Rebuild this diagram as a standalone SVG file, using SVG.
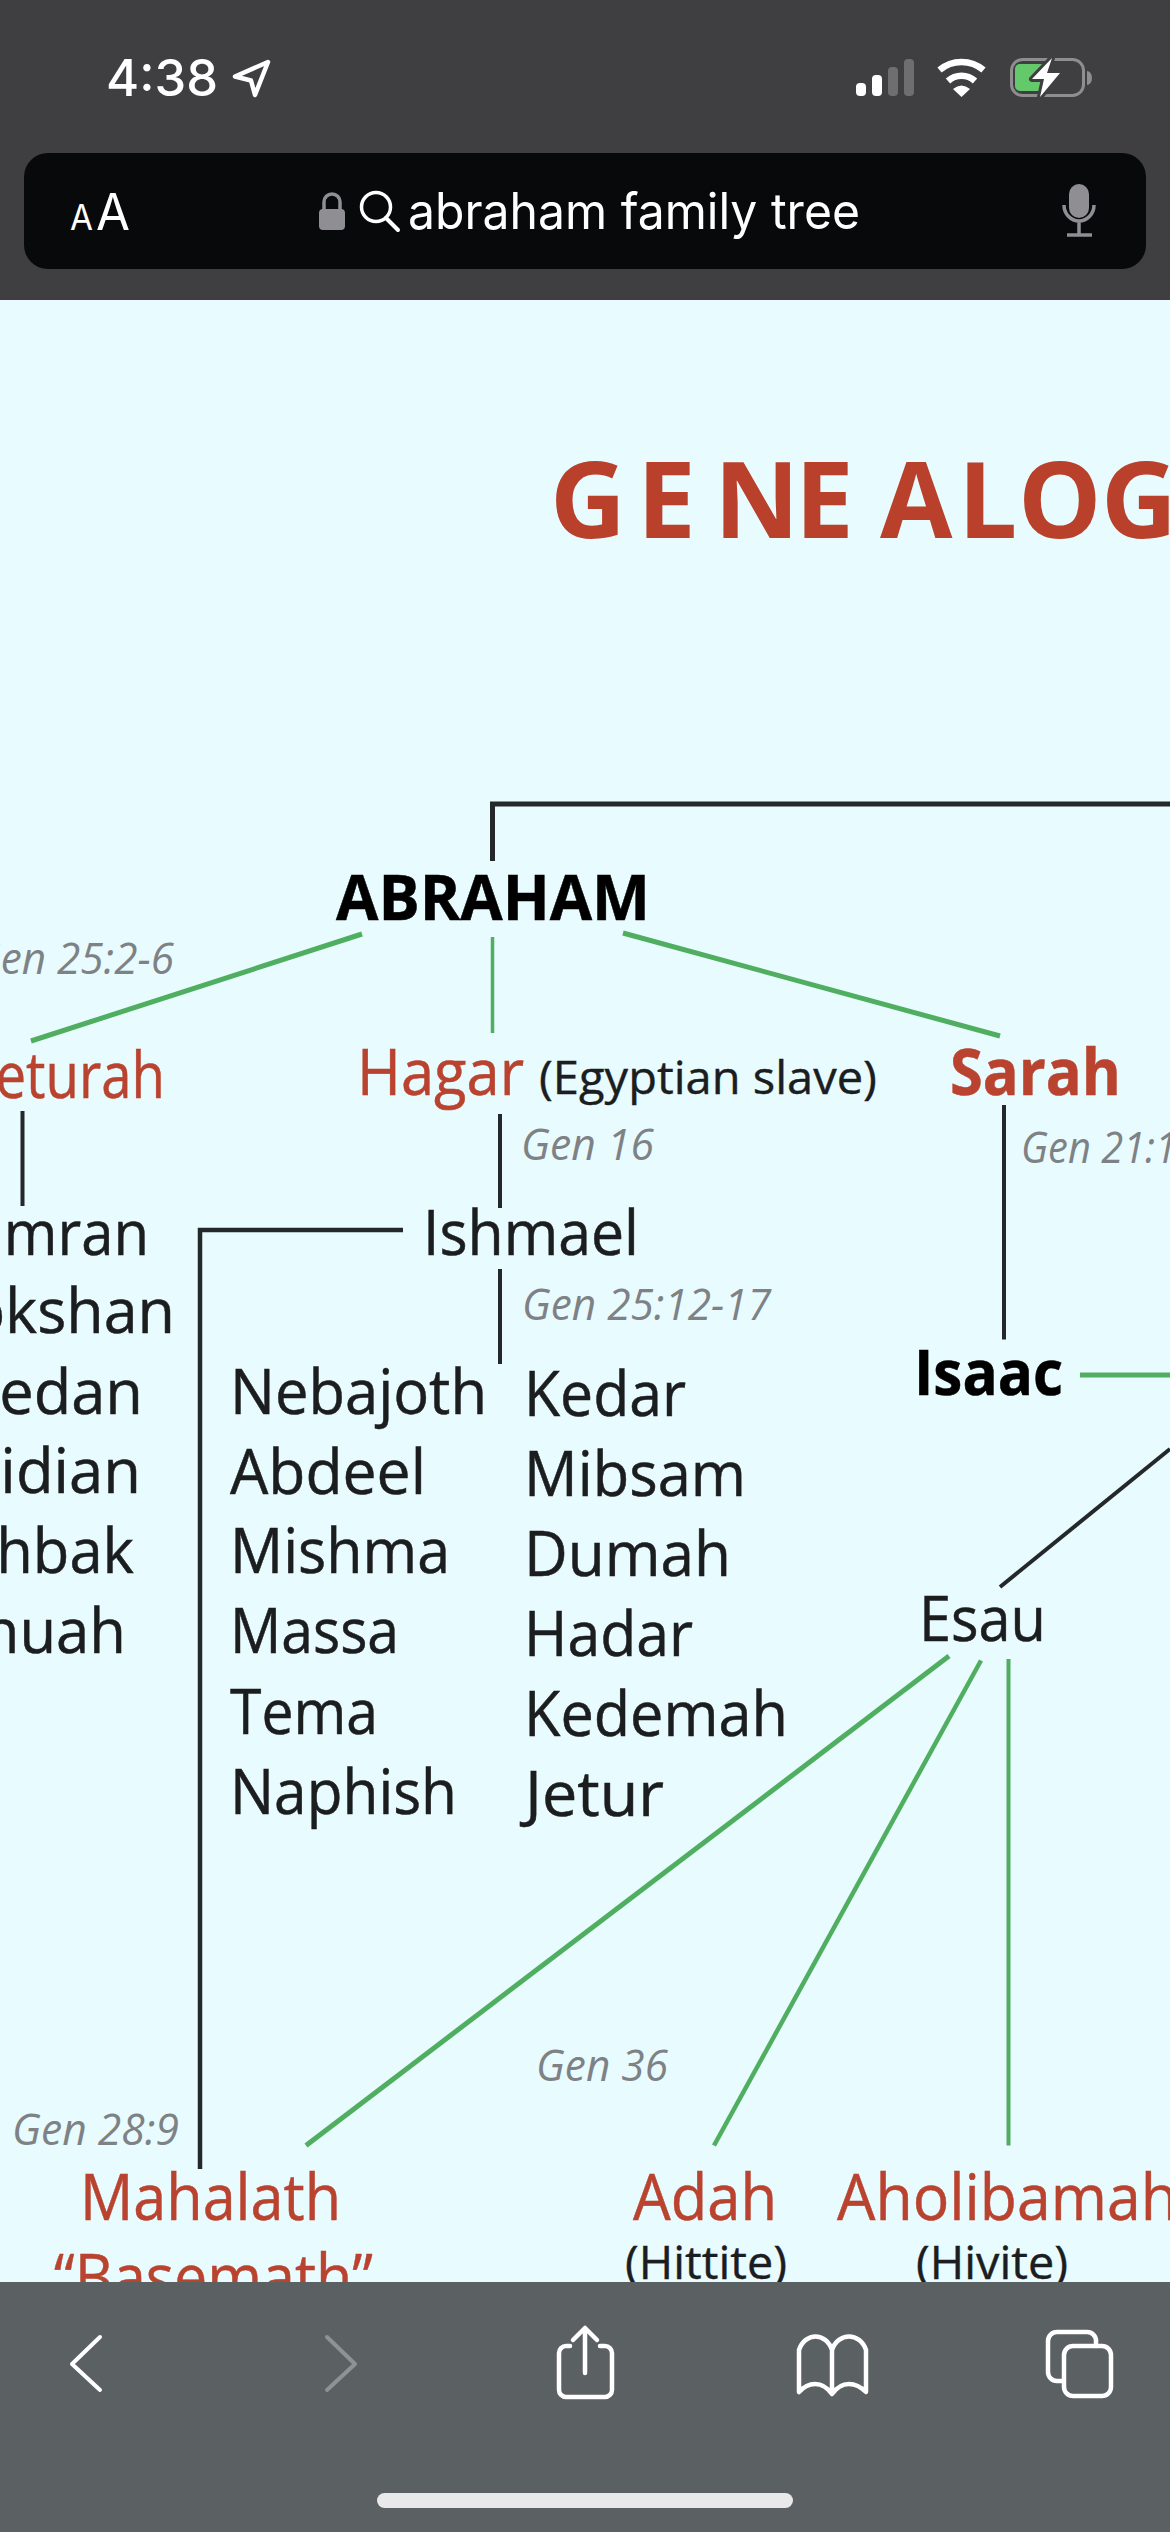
<svg xmlns="http://www.w3.org/2000/svg" width="1170" height="2532" viewBox="0 0 1170 2532">
<style>
text{font-family:"Open Sans","Noto Sans","Liberation Sans",sans-serif}
.n{font-size:62px;fill:#1b1d1f;stroke:#1b1d1f;stroke-width:.5}
.w{font-size:64px;fill:#b9432f;stroke:#b9432f;stroke-width:.5}
.b{font-weight:700}
.g{font-size:44px;fill:#7e8285;font-style:italic}
.s{font-size:46px;fill:#1b1d1f;stroke:#1b1d1f;stroke-width:.4}
.ui{font-family:Inter,"Noto Sans",sans-serif;fill:#fff}
.bk{fill:none;stroke:#25282a;stroke-width:4}
.gr{fill:none;stroke:#4fae5f;stroke-width:5}
.ic{fill:none;stroke:#fff;stroke-width:4.5;stroke-linecap:round;stroke-linejoin:round}
</style>
<rect width="1170" height="2532" fill="#e8fbff"/>
<g id="title"><text x="550 637 714 795 880 958 1018 1101 1190" y="538" font-size="105" font-weight="700" fill="#b9402b">GENEALOGY</text></g>
<g id="connectors">
<path class="bk" style="stroke-width:5" d="M492.5 861V804H1170"/>
<path class="gr" d="M362 934L31 1041M623 933L1000 1036"/>
<path class="gr" style="stroke-width:3.5" d="M492.5 937V1033"/>
<path class="bk" d="M22.5 1111V1206M500 1114V1208M500 1269V1364M1004 1105V1339.5"/>
<path class="bk" style="stroke-width:4.5" d="M403 1230H200V2169"/>
<path class="gr" d="M1080 1375H1170"/>
<path class="bk" d="M1170 1449L1000 1587"/>
<path class="gr" d="M949 1656L306 2145.5"/>
<path class="gr" style="stroke-width:4.5" d="M981 1660.5L714 2145.5"/>
<path class="gr" style="stroke-width:4" d="M1008.5 1659V2145.5"/>
</g>
<g id="abraham"><text class="n b" x="336" y="920" textLength="314" lengthAdjust="spacingAndGlyphs" style="fill:#000;stroke:#000;font-size:63px">ABRAHAM</text></g>
<g id="gen-25-2-6"><text class="g" x="-28" y="974" textLength="202" lengthAdjust="spacingAndGlyphs">Gen 25:2-6</text></g>
<g id="keturah"><text class="w" x="-38" y="1098" textLength="203" lengthAdjust="spacingAndGlyphs">Keturah</text></g>
<g id="hagar"><text class="w" x="357" y="1095" textLength="167" lengthAdjust="spacingAndGlyphs">Hagar</text><text class="s" x="539" y="1094" textLength="338" lengthAdjust="spacingAndGlyphs">(Egyptian slave)</text></g>
<g id="sarah"><text class="w b" x="950" y="1095" textLength="171" lengthAdjust="spacingAndGlyphs">Sarah</text></g>
<g id="gen-16"><text class="g" x="521" y="1160" textLength="133" lengthAdjust="spacingAndGlyphs">Gen 16</text></g>
<g id="gen-21"><text class="g" x="1021" y="1163" textLength="156" lengthAdjust="spacingAndGlyphs">Gen 21:1</text></g>
<g id="ishmael"><text class="n" x="423" y="1254.5" textLength="216" lengthAdjust="spacingAndGlyphs">Ishmael</text></g>
<g id="gen-25-12-17"><text class="g" x="522" y="1320" textLength="249" lengthAdjust="spacingAndGlyphs">Gen 25:12-17</text></g>
<g id="isaac"><text class="n b" x="914" y="1394.5" textLength="149" lengthAdjust="spacingAndGlyphs" style="fill:#000;stroke:#000">Isaac</text></g>
<g id="esau"><text class="n" x="919" y="1641" textLength="127" lengthAdjust="spacingAndGlyphs">Esau</text></g>
<g id="keturah-sons">
<text class="n" x="-44" y="1254.5" textLength="193" lengthAdjust="spacingAndGlyphs">Zimran</text>
<text class="n" x="-48" y="1333" textLength="223" lengthAdjust="spacingAndGlyphs">Jokshan</text>
<text class="n" x="-56" y="1414" textLength="199" lengthAdjust="spacingAndGlyphs">Medan</text>
<text class="n" x="-55" y="1493" textLength="196" lengthAdjust="spacingAndGlyphs">Midian</text>
<text class="n" x="-49" y="1573" textLength="183" lengthAdjust="spacingAndGlyphs">Ishbak</text>
<text class="n" x="-50" y="1653" textLength="176" lengthAdjust="spacingAndGlyphs">Shuah</text>
</g>
<g id="ishmael-sons-1">
<text class="n" x="230" y="1414" textLength="257" lengthAdjust="spacingAndGlyphs">Nebajoth</text>
<text class="n" x="230" y="1494" textLength="196" lengthAdjust="spacingAndGlyphs">Abdeel</text>
<text class="n" x="230" y="1573" textLength="220" lengthAdjust="spacingAndGlyphs">Mishma</text>
<text class="n" x="230" y="1653" textLength="169" lengthAdjust="spacingAndGlyphs">Massa</text>
<text class="n" x="230" y="1734" textLength="148" lengthAdjust="spacingAndGlyphs">Tema</text>
<text class="n" x="230" y="1813.5" textLength="227" lengthAdjust="spacingAndGlyphs">Naphish</text>
</g>
<g id="ishmael-sons-2">
<text class="n" x="524" y="1416" textLength="162" lengthAdjust="spacingAndGlyphs">Kedar</text>
<text class="n" x="524" y="1496" textLength="222" lengthAdjust="spacingAndGlyphs">Mibsam</text>
<text class="n" x="524" y="1576" textLength="207" lengthAdjust="spacingAndGlyphs">Dumah</text>
<text class="n" x="524" y="1655.5" textLength="169" lengthAdjust="spacingAndGlyphs">Hadar</text>
<text class="n" x="524" y="1736" textLength="264" lengthAdjust="spacingAndGlyphs">Kedemah</text>
<text class="n" x="525" y="1816" textLength="139" lengthAdjust="spacingAndGlyphs">Jetur</text>
</g>
<g id="gen-36"><text class="g" x="536" y="2081" textLength="132" lengthAdjust="spacingAndGlyphs">Gen 36</text></g>
<g id="gen-28-9"><text class="g" x="12" y="2145" textLength="167" lengthAdjust="spacingAndGlyphs">Gen 28:9</text></g>
<g id="mahalath"><text class="w" x="80" y="2220" textLength="261" lengthAdjust="spacingAndGlyphs">Mahalath</text><text class="w" x="54" y="2300" textLength="319" lengthAdjust="spacingAndGlyphs">“Basemath”</text></g>
<g id="adah"><text class="w" x="633" y="2220" textLength="144" lengthAdjust="spacingAndGlyphs">Adah</text><text class="s" x="625" y="2279" textLength="162" lengthAdjust="spacingAndGlyphs">(Hittite)</text></g>
<g id="aholibamah"><text class="w" x="837" y="2220" textLength="341" lengthAdjust="spacingAndGlyphs">Aholibamah</text><text class="s" x="916" y="2279" textLength="152" lengthAdjust="spacingAndGlyphs">(Hivite)</text></g>

<g id="top-bar">
<rect width="1170" height="300" fill="#3f3f41"/>
<text class="ui" x="106" y="96" font-size="51" font-weight="500" textLength="112" lengthAdjust="spacingAndGlyphs">4:38</text>
<path d="M268 62L235 76.5L251 80.5L255 95Z" fill="none" stroke="#fff" stroke-width="4.5" stroke-linejoin="round"/>
<rect x="856" y="83" width="10" height="13" rx="4" fill="#fff"/><rect x="872" y="75" width="10" height="21" rx="4" fill="#fff"/>
<rect x="888" y="67" width="10" height="29" rx="4" fill="#6e6e70"/><rect x="904" y="59" width="10" height="37" rx="4" fill="#6e6e70"/>
<path d="M939.5 70A34 34 0 0 1 983.5 70M948 81A20 20 0 0 1 975 81" fill="none" stroke="#fff" stroke-width="6.5"/><path d="M953 89Q961.5 82 970 89L961.5 97Z" fill="#fff"/>
<rect x="1011.5" y="59.5" width="72" height="36" rx="11" fill="none" stroke="#8e8e90" stroke-width="3"/>
<path d="M1087 71a5 7 0 0 1 0 14Z" fill="#8e8e90"/>
<rect x="1015" y="64" width="30" height="27" rx="5" fill="#63c96a"/>
<path d="M1052 58L1032 79H1044L1040 97L1060 73H1047Z" fill="#fff" stroke="#3f3f41" stroke-width="6" paint-order="stroke" stroke-linejoin="round"/>
<rect x="24" y="153" width="1122" height="116" rx="24" fill="#08090b"/>
<text class="ui" x="70" y="230" font-size="35" textLength="23" lengthAdjust="spacingAndGlyphs">A</text>
<text class="ui" x="96" y="230" font-size="51" textLength="34" lengthAdjust="spacingAndGlyphs">A</text>
<rect x="319" y="209" width="26" height="21" rx="4" fill="#8e8e93"/><path d="M324 210V202a8 8 0 0 1 16 0V210" fill="none" stroke="#8e8e93" stroke-width="3.5"/>
<circle cx="376" cy="207" r="14.5" fill="none" stroke="#fff" stroke-width="3.5"/><path d="M386 218L398 230" stroke="#fff" stroke-width="4" stroke-linecap="round"/>
<text class="ui" x="408" y="229" font-size="50" textLength="452" lengthAdjust="spacingAndGlyphs">abraham family tree</text>
<rect x="1069" y="184" width="20" height="34" rx="10" fill="#8e8e93"/><path d="M1064 205a15 16 0 0 0 30 0M1079 221V234M1067 235H1092" fill="none" stroke="#8e8e93" stroke-width="3.5"/>
</g>
<g id="bottom-bar">
<rect y="2282" width="1170" height="250" fill="#5b6063"/>
<path class="ic" d="M100 2337L72 2364L100 2390" style="stroke-width:4"/>
<path class="ic" d="M327 2337L355 2364L327 2390" style="stroke:#8e9295;stroke-width:4"/>
<path class="ic" d="M570 2346H566a7 7 0 0 0 -7 7V2390a7 7 0 0 0 7 7H605a7 7 0 0 0 7 -7V2353a7 7 0 0 0 -7 -7H600M585 2373V2329M573 2340L585 2328L597 2340"/>
<path class="ic" d="M832 2394C822 2380 808 2382 799 2392V2350C805 2332 826 2332 832 2350V2394C842 2380 856 2382 866 2392V2350C860 2332 838 2332 832 2350"/>
<path class="ic" d="M1063 2381H1057a9 9 0 0 1 -9 -9V2341a9 9 0 0 1 9 -9H1086a9 9 0 0 1 10 10V2346"/>
<rect class="ic" x="1064" y="2346" width="47" height="50" rx="9"/>
<rect x="377" y="2493" width="416" height="15" rx="7.5" fill="#e9e9e9"/>
</g>
</svg>
